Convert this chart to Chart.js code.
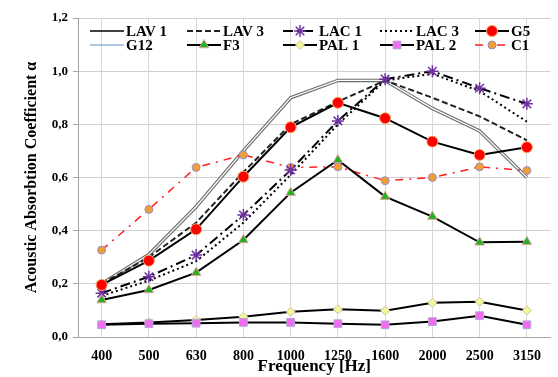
<!DOCTYPE html>
<html>
<head>
<meta charset="utf-8">
<script src="https://cdn.jsdelivr.net/npm/chart.js@4.4.0/dist/chart.umd.min.js"></script>
<style>
    html, body { margin: 0; padding: 0; background: #ffffff; }
    #wrap { width: 558px; height: 377px; }
</style>
</head>
<body>
<div id="wrap"><canvas id="chartAbsorption"></canvas></div>
<script>
/**
 * Frequencies
 */
const frequencies = ['400', '500', '630', '800', '1000', '1250', '1600', '2000', '2500', '3150'];

/**
 * Y ticks
 */
const yTicks = [0, 0.2, 0.4, 0.6, 0.8, 1.0, 1.2];

/**
 * Series
 */
const lav1 = [0.20, 0.31, 0.49, 0.70, 0.90, 0.965, 0.965, 0.86, 0.775, 0.60];
const lav3 = [0.20, 0.30, 0.43, 0.62, 0.80, 0.885, 0.965, 0.90, 0.83, 0.74];
const lac1 = [0.165, 0.227, 0.308, 0.459, 0.628, 0.813, 0.97, 1.0, 0.936, 0.877];
const lac3 = [0.155, 0.212, 0.285, 0.43, 0.61, 0.80, 0.965, 0.99, 0.925, 0.81];
const g5   = [0.196, 0.287, 0.405, 0.603, 0.789, 0.881, 0.823, 0.735, 0.685, 0.714];
const g12  = [0.20, 0.31, 0.49, 0.70, 0.90, 0.965, 0.965, 0.86, 0.775, 0.60];
const f3   = [0.139, 0.177, 0.242, 0.365, 0.543, 0.666, 0.528, 0.453, 0.356, 0.358];
const pal1 = [0.048, 0.055, 0.064, 0.076, 0.095, 0.104, 0.099, 0.129, 0.133, 0.10];
const pal2 = [0.046, 0.05, 0.052, 0.055, 0.055, 0.05, 0.046, 0.058, 0.08, 0.046];
const c1   = [0.327, 0.48, 0.638, 0.685, 0.638, 0.64, 0.588, 0.60, 0.64, 0.626];

/**
 * Fonts
 */
const serif = '"Liberation Serif", "DejaVu Serif", serif';

/**
 * Legend inside the plot
 */
const insideLegend = {
    id: 'insideLegend',
    afterDraw: function (chart) {
        const ctx = chart.ctx;
        const cols = [90, 187, 283, 380, 475];
        const rows = [31, 45];
        const sample = 34;

        chart.data.datasets.forEach(function (ds, i) {
            const x = cols[i % 5];
            const y = rows[Math.floor(i / 5)];

            ctx.save();
            ctx.strokeStyle = ds.legendColor || ds.borderColor;
            ctx.lineWidth = ds.legendWidth || ds.borderWidth;
            ctx.setLineDash(ds.borderDash || []);
            ctx.beginPath();
            ctx.moveTo(x, y);
            ctx.lineTo(x + sample, y);
            ctx.stroke();
            ctx.setLineDash([]);

            if (ds.pointRadius > 0) {
                ctx.fillStyle = ds.pointBackgroundColor;
                ctx.strokeStyle = ds.pointBorderColor;
                ctx.lineWidth = ds.pointBorderWidth;
                Chart.helpers.drawPoint(ctx, {
                    pointStyle: ds.pointStyle,
                    rotation: 0,
                    radius: ds.pointRadius,
                    borderWidth: ds.pointBorderWidth
                }, x + sample / 2, y);
            }

            ctx.fillStyle = '#000000';
            ctx.font = 'bold 15px ' + serif;
            ctx.textBaseline = 'middle';
            ctx.textAlign = 'left';
            ctx.fillText(ds.label, x + sample + 2, y + 1);
            ctx.restore();
        });
    }
};

/**
 * Chart
 */
new Chart(document.getElementById('chartAbsorption'), {
    /**
     * Type
     */
    type: 'line',

    /**
     * Data
     */
    data: {
        labels: frequencies,
        datasets: [
            {
                label: 'LAV 1',
                data: lav1,
                borderColor: '#6e6e6e',
                legendColor: '#000000',
                legendWidth: 1.5,
                borderWidth: 3.5,
                pointRadius: 0,
                order: 9
            },
            {
                label: 'LAV 3',
                data: lav3,
                borderColor: '#222222',
                borderWidth: 2,
                borderDash: [6, 3],
                pointRadius: 0,
                order: 7
            },
            {
                label: 'LAC 1',
                data: lac1,
                borderColor: '#000000',
                borderWidth: 2,
                borderDash: [10, 4, 2, 4],
                pointStyle: 'star',
                pointRadius: 6,
                pointBorderWidth: 1.5,
                pointBackgroundColor: '#7030a0',
                pointBorderColor: '#7030a0',
                order: 4
            },
            {
                label: 'LAC 3',
                data: lac3,
                borderColor: '#000000',
                borderWidth: 2,
                borderDash: [2, 3],
                pointRadius: 0,
                order: 6
            },
            {
                label: 'G5',
                data: g5,
                borderColor: '#000000',
                borderWidth: 2,
                pointStyle: 'circle',
                pointRadius: 5.5,
                pointBorderWidth: 1,
                pointBackgroundColor: '#ff0000',
                pointBorderColor: '#f4a460',
                order: 3
            },
            {
                label: 'G12',
                data: g12,
                borderColor: '#ffffff',
                legendColor: '#95b3d7',
                legendWidth: 1.5,
                borderWidth: 1.2,
                pointRadius: 0,
                order: 8
            },
            {
                label: 'F3',
                data: f3,
                borderColor: '#000000',
                borderWidth: 2,
                pointStyle: 'triangle',
                pointRadius: 5.5,
                pointBorderWidth: 1,
                pointBackgroundColor: '#1fb31f',
                pointBorderColor: '#e6a0a0',
                order: 2
            },
            {
                label: 'PAL 1',
                data: pal1,
                borderColor: '#000000',
                borderWidth: 2,
                pointStyle: 'rectRot',
                pointRadius: 4.5,
                pointBorderWidth: 1,
                pointBackgroundColor: '#f5f59a',
                pointBorderColor: '#c8c8a0',
                order: 2
            },
            {
                label: 'PAL 2',
                data: pal2,
                borderColor: '#000000',
                borderWidth: 2,
                pointStyle: 'rect',
                pointRadius: 5.5,
                pointBorderWidth: 1,
                pointBackgroundColor: '#f06cf0',
                pointBorderColor: '#b4a7d6',
                order: 1
            },
            {
                label: 'C1',
                data: c1,
                borderColor: '#ff2020',
                borderWidth: 1.5,
                borderDash: [8, 6, 2, 6],
                pointStyle: 'circle',
                pointRadius: 4,
                pointBorderWidth: 1,
                pointBackgroundColor: '#f0a030',
                pointBorderColor: '#9e8cd3',
                order: 5
            }
        ]
    },

    /**
     * Plugins
     */
    plugins: [insideLegend],

    /**
     * Options
     */
    options: {
        responsive: true,
        maintainAspectRatio: false,
        animation: false,
        layout: { padding: { top: 18, right: 1, left: 0, bottom: 0 } },
        plugins: {
            legend: { display: false },
            tooltip: { enabled: false }
        },
        scales: {
            x: {
                offset: true,
                grid: { color: '#d9d9d9', drawTicks: false, offset: false },
                border: { color: '#a6a6a6' },
                ticks: {
                    color: '#000000',
                    font: { family: serif, size: 14, weight: 'bold' },
                    padding: 11,
                    maxRotation: 0,
                    autoSkip: false
                },
                title: {
                    display: true,
                    text: 'Frequency [Hz]',
                    color: '#000000',
                    font: { family: serif, size: 17, weight: 'bold' },
                    padding: { top: 0, bottom: 0 }
                },
                afterFit: function (scale) { scale.height = 40; }
            },
            y: {
                min: 0,
                max: 1.2,
                afterBuildTicks: function (scale) {
                    scale.ticks = yTicks.map(function (v) { return { value: v }; });
                },
                grid: { color: '#d0d0d0', tickLength: 5, tickColor: '#a6a6a6' },
                border: { color: '#a6a6a6' },
                ticks: {
                    color: '#000000',
                    font: { family: serif, size: 13, weight: 'bold' },
                    padding: 5,
                    callback: function (v) { return Number(v).toFixed(1).replace('.', ','); }
                },
                title: {
                    display: true,
                    text: 'Acoustic Absorbtion Coefficient α',
                    color: '#000000',
                    font: { family: serif, size: 16, weight: 'bold' },
                    padding: { top: 22, bottom: 0 }
                },
                afterFit: function (scale) { scale.width = 78; }
            }
        }
    }
});
</script>
</body>
</html>
